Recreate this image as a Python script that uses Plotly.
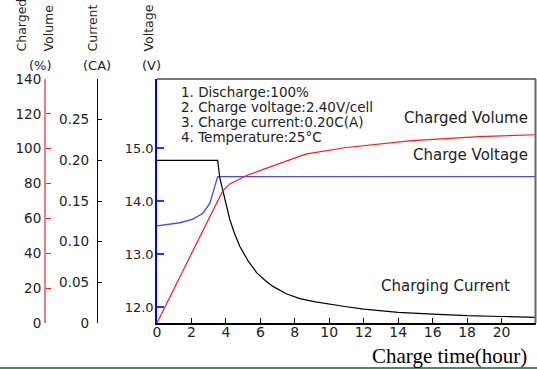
import plotly.graph_objects as go

# ---------------- data ----------------
hours_current = [0, 3.52, 3.65, 3.9, 4.23, 4.5, 4.81, 5.3, 5.78, 6.3, 6.73, 7.5, 8.29,
                 9.2, 10.0, 11.0, 12.0, 13.0, 14.0, 16.0, 18.0, 20.0, 22.0]
current_ca = [0.200, 0.200, 0.178, 0.155, 0.127, 0.110, 0.094, 0.076, 0.062, 0.052, 0.045,
              0.036, 0.030, 0.026, 0.023, 0.020, 0.017, 0.015, 0.013, 0.011, 0.009, 0.008, 0.007]

hours_voltage = [0, 1.33, 2.09, 2.67, 3.07, 3.3, 3.52, 22.0]
voltage_v = [13.53, 13.59, 13.66, 13.77, 13.96, 14.2, 14.46, 14.46]

hours_volume = [0, 3.52, 3.8, 4.23, 5.2, 6.2, 7.13, 8.0, 8.68, 11.0, 14.8, 18.7, 22.0]
volume_pct = [0, 70.3, 75.5, 79.8, 84.6, 88.3, 91.6, 94.6, 97.0, 100.7, 104.6, 106.9, 108.0]

x_ticks = [0, 2, 4, 6, 8, 10, 12, 14, 16, 18, 20]
volt_ticks = [12, 13, 14, 15]
volt_labels = ["12.0", "13.0", "14.0", "15.0"]
curr_ticks = [0, 0.05, 0.10, 0.15, 0.20, 0.25, 0.30]
curr_labels = ["0", "0.05", "0.10", "0.15", "0.20", "0.25", ""]
vol_ticks = [0, 20, 40, 60, 80, 100, 120, 140]

info_lines = ["1. Discharge:100%", "2. Charge voltage:2.40V/cell",
              "3. Charge current:0.20C(A)", "4. Temperature:25°C"]

# ---------------- geometry helpers (pixel -> paper) ----------------
W, H = 537, 369
L, R, T, B = 0, 1, 79, 46
PW = W - L - R
PH = H - T - B


def px(x):
    return (x - L) / PW


def py(y):
    return (H - B - y) / PH


FONT = "DejaVu Sans"
TXT = "#222222"

fig = go.Figure()
fig.add_trace(go.Scatter(x=hours_current, y=current_ca, yaxis="y2", mode="lines",
                         line=dict(color="black", width=1.2), showlegend=False))
fig.add_trace(go.Scatter(x=hours_volume, y=volume_pct, yaxis="y3", mode="lines",
                         line=dict(color="#ff1a1a", width=1.2), showlegend=False))
fig.add_trace(go.Scatter(x=hours_voltage, y=voltage_v, yaxis="y", mode="lines",
                         line=dict(color="#4848f0", width=1.3), showlegend=False))

fig.update_layout(
    width=W, height=H,
    margin=dict(l=L, r=R, t=T, b=B, pad=0),
    template="none",
    paper_bgcolor="white", plot_bgcolor="white",
    showlegend=False,
    xaxis=dict(domain=[px(157), 1], range=[0, 22], tickvals=x_ticks,
               showgrid=False, zeroline=False, showline=True, linecolor="black", linewidth=1.5,
               ticks="inside", ticklen=5, tickcolor="black", tickwidth=1,
               ticklabelstandoff=-5,
               tickfont=dict(family=FONT, size=14, color=TXT)),
    yaxis=dict(range=[11.7, 16.3], tickvals=volt_ticks, ticktext=volt_labels,
               showgrid=False, zeroline=False, showline=True, linecolor="#0000ff", linewidth=1.5,
               ticks="inside", ticklen=7, tickcolor="#3030ff", tickwidth=1.5,
               ticklabelstandoff=-1,
               tickfont=dict(family=FONT, size=13, color=TXT)),
    yaxis2=dict(range=[0, 0.30], tickvals=curr_ticks, ticktext=curr_labels,
                overlaying="y", anchor="free", position=px(97), side="left",
                showgrid=False, zeroline=False, showline=True, linecolor="#111111", linewidth=1.3,
                ticks="inside", ticklen=4, tickcolor="#111111", tickwidth=1.3,
                ticklabelstandoff=5,
                tickfont=dict(family=FONT, size=13.5, color=TXT)),
    yaxis3=dict(range=[0, 140], tickvals=vol_ticks,
                overlaying="y", anchor="free", position=px(45), side="left",
                showgrid=False, zeroline=False, showline=True, linecolor="#f37c7c", linewidth=2,
                ticks="inside", ticklen=5, tickcolor="#ff2020", tickwidth=1.3,
                ticklabelstandoff=0,
                tickfont=dict(family=FONT, size=13.5, color=TXT)),
)

shapes = [
    # top and right frame (gray)
    dict(type="line", xref="paper", yref="paper", x0=px(157), x1=px(536), y0=py(79), y1=py(79),
         line=dict(color="#777777", width=2)),
    dict(type="line", xref="paper", yref="paper", x0=px(535.5), x1=px(535.5), y0=py(79), y1=py(323),
         line=dict(color="#666666", width=2)),
    # green rule at the bottom of the image
    dict(type="line", xref="paper", yref="paper", x0=px(0), x1=px(537), y0=py(368), y1=py(368),
         line=dict(color="#22a050", width=2)),
]
fig.update_layout(shapes=shapes)

ann = []
# info block
for i, t in enumerate(info_lines):
    ann.append(dict(text=t, xref="paper", yref="paper", x=px(179), y=py(92 + i * 15),
                    xanchor="left", yanchor="middle", showarrow=False,
                    font=dict(family=FONT, size=13.5, color=TXT)))
# curve labels
ann.append(dict(text="Charged Volume", xref="paper", yref="paper", x=px(530), y=py(118),
                xanchor="right", yanchor="middle", showarrow=False,
                font=dict(family=FONT, size=15, color=TXT)))
ann.append(dict(text="Charge Voltage", xref="paper", yref="paper", x=px(530), y=py(155),
                xanchor="right", yanchor="middle", showarrow=False,
                font=dict(family=FONT, size=15, color=TXT)))
ann.append(dict(text="Charging Current", xref="paper", yref="paper", x=px(379), y=py(286),
                xanchor="left", yanchor="middle", showarrow=False,
                font=dict(family=FONT, size=15, color=TXT)))
# x-axis title
ann.append(dict(text="Charge time(hour)", xref="paper", yref="paper", x=px(529), y=py(356),
                xanchor="right", yanchor="middle", showarrow=False,
                font=dict(family="Liberation Serif", size=21, color="black")))
# rotated y-axis titles
for t, cx in [("Charged", 21), ("Volume", 48), ("Current", 92), ("Voltage", 148)]:
    ann.append(dict(text=t, xref="paper", yref="paper", x=px(cx), y=py(54),
                    xanchor="center", yanchor="bottom", textangle=-90, showarrow=False,
                    font=dict(family=FONT, size=12.5, color=TXT)))
for t, cx in [("(%)", 40), ("(CA)", 97), ("(V)", 151)]:
    ann.append(dict(text=t, xref="paper", yref="paper", x=px(cx), y=py(65),
                    xanchor="center", yanchor="middle", showarrow=False,
                    font=dict(family=FONT, size=13, color=TXT)))
fig.update_layout(annotations=ann)

fig.write_html("out.html", post_script="document.body.style.margin='0';",
               config={"displayModeBar": False})
